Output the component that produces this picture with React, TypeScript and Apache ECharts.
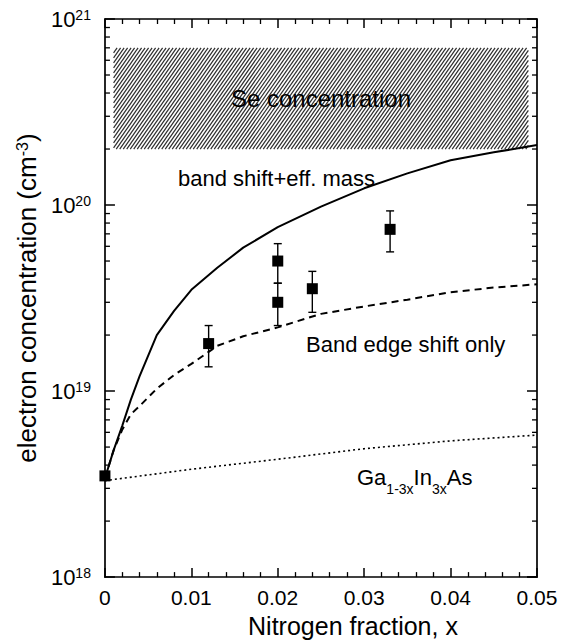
import React, { useEffect, useRef } from "react";
import * as echarts from "echarts";

// ---- data ----
const curveX = [0, 0.001, 0.002, 0.003, 0.004, 0.006, 0.008, 0.01, 0.013, 0.016, 0.02, 0.025, 0.03, 0.035, 0.04, 0.045, 0.05];
const bandShiftEffMass = [3.4e18, 4.8e18, 6.5e18, 9e18, 1.2e19, 2.0e19, 2.7e19, 3.5e19, 4.6e19, 5.9e19, 7.6e19, 9.8e19, 1.23e20, 1.48e20, 1.74e20, 1.92e20, 2.1e20];
const bandEdgeShiftOnly = [3.4e18, 4.8e18, 6.2e18, 7.5e18, 8.3e18, 1.03e19, 1.22e19, 1.4e19, 1.75e19, 1.97e19, 2.2e19, 2.6e19, 2.85e19, 3.1e19, 3.4e19, 3.6e19, 3.75e19];
const alloyX = [0, 0.01, 0.02, 0.03, 0.04, 0.05];
const gaInAs = [3.3e18, 3.8e18, 4.3e18, 4.9e18, 5.4e18, 5.8e18];
const measX = [0, 0.012, 0.02, 0.02, 0.024, 0.033];
const measN = [3.5e18, 1.8e19, 5.0e19, 3.0e19, 3.55e19, 7.4e19];
const errLow = [null, 1.35e19, 3.8e19, 2.25e19, 2.65e19, 5.6e19];
const errHigh = [null, 2.25e19, 6.2e19, 3.8e19, 4.4e19, 9.3e19];
const seX = [0.001, 0.049];
const seN = [2e20, 7e20];
const decades = [1e18, 1e19, 1e20];
const minorMult = [2, 3, 4, 5, 6, 7, 8, 9];

const FONT = "'Liberation Sans', Arial, Helvetica, sans-serif";

export default function App() {
  const ref = useRef<HTMLDivElement>(null);
  useEffect(() => {
    const chart = echarts.init(ref.current!, null, { renderer: "svg" });

    const minorVals: number[] = [];
    decades.forEach((d) => minorMult.forEach((m) => minorVals.push(m * d)));

    const errData: number[][] = [];
    measX.forEach((x, i) => {
      if (errLow[i] != null && errHigh[i] != null) errData.push([x, measN[i], errLow[i] as number, errHigh[i] as number]);
    });

    const axisLineStyle = { color: "#000", width: 1.7 };
    const xCommon = {
      type: "value",
      min: 0,
      max: 0.05,
      interval: 0.01,
      axisLine: { show: true, onZero: false, lineStyle: axisLineStyle },
      axisTick: { show: true, inside: true, length: 9, lineStyle: { color: "#000", width: 1.5 } },
      minorTick: { show: true, splitNumber: 5, length: 5, lineStyle: { color: "#000", width: 1.3 } },
      splitLine: { show: false },
      minorSplitLine: { show: false },
    };
    const yCommon = {
      type: "log",
      logBase: 10,
      min: 1e18,
      max: 1e21,
      axisLine: { show: true, onZero: false, lineStyle: axisLineStyle },
      axisTick: { show: true, inside: true, length: 10, lineStyle: { color: "#000", width: 1.5 } },
      splitLine: { show: false },
    };

    const option: any = {
      animation: false,
      backgroundColor: "#fff",
      grid: { left: 99, right: 25, top: 19, bottom: 55, containLabel: false },
      xAxis: [
        {
          ...xCommon,
          position: "bottom",
          axisLabel: {
            show: true,
            color: "#000",
            fontSize: 21,
            fontFamily: FONT,
            margin: 10,
            formatter: (v: number) => (v === 0 ? "0" : v.toFixed(2)),
          },
          name: "Nitrogen fraction, x",
          nameLocation: "middle",
          nameGap: 31,
          nameTextStyle: { color: "#000", fontSize: 25, fontFamily: FONT, padding: [0, 0, 0, 64] },
        },
        { ...xCommon, position: "top", axisLabel: { show: false } },
      ],
      yAxis: [
        {
          ...yCommon,
          position: "left",
          axisLabel: {
            show: true,
            margin: 14,
            formatter: (v: number) => `{b|10}{s|${Math.round(Math.log10(v))}}`,
            rich: {
              b: { fontSize: 22, fontFamily: FONT, color: "#000", lineHeight: 22, verticalAlign: "bottom", padding: [6, 0, 0, 0] },
              s: { fontSize: 14, fontFamily: FONT, color: "#000", lineHeight: 14, verticalAlign: "top" },
            },
          },
          name: "{a|electron concentration (cm}{s|-3}{a|)}",
          nameLocation: "middle",
          nameGap: 40,
          nameRotate: 90,
          nameTextStyle: {
            rich: {
              a: { fontSize: 26, fontFamily: FONT, color: "#000", lineHeight: 26, verticalAlign: "bottom", padding: [6, 0, 0, 0] },
              s: { fontSize: 16, fontFamily: FONT, color: "#000", lineHeight: 16, verticalAlign: "top" },
            },
          },
        },
        { ...yCommon, position: "right", axisLabel: { show: false } },
      ],
      series: [
        {
          type: "custom",
          name: "Se concentration",
          xAxisIndex: 0,
          yAxisIndex: 0,
          silent: true,
          z: 1,
          clip: false,
          data: [[seX[0], seX[1], seN[0], seN[1]]],
          renderItem: (params: any, api: any) => {
            const tl = api.coord([api.value(0), api.value(3)]);
            const br = api.coord([api.value(1), api.value(2)]);
            const left = tl[0], top = tl[1], right = br[0], bottom = br[1];
            const h = bottom - top;
            const a = 0.7; // horizontal run per vertical px
            const step = 3.5;
            const children: any[] = [];
            for (let c = left - h * a; c <= right; c += step) {
              let x1 = c, y1 = bottom, x2 = c + h * a, y2 = top;
              if (x1 < left) { y1 = bottom - (left - c) / a; x1 = left; }
              if (x2 > right) { y2 = bottom - (right - c) / a; x2 = right; }
              if (y1 <= y2) continue;
              children.push({ type: "line", shape: { x1, y1, x2, y2 }, style: { stroke: "#2e2e2e", lineWidth: 1.2 } });
            }
            children.push({
              type: "text",
              style: {
                text: "Se concentration",
                x: (left + right) / 2,
                y: (top + bottom) / 2,
                textAlign: "center",
                textVerticalAlign: "middle",
                fontSize: 24,
                fontFamily: FONT,
                fill: "#000",
              },
            });
            return { type: "group", children };
          },
        },
        {
          type: "custom",
          name: "minor ticks",
          silent: true,
          clip: false,
          z: 5,
          data: minorVals.map((v) => [0, v]),
          renderItem: (params: any, api: any) => {
            const pL = api.coord([0, api.value(1)]);
            const pR = api.coord([0.05, api.value(1)]);
            const st = { stroke: "#000", lineWidth: 1.3 };
            return {
              type: "group",
              children: [
                { type: "line", shape: { x1: pL[0], y1: pL[1], x2: pL[0] + 5, y2: pL[1] }, style: st },
                { type: "line", shape: { x1: pR[0], y1: pR[1], x2: pR[0] - 5, y2: pR[1] }, style: st },
              ],
            };
          },
        },
        {
          type: "line",
          name: "band shift+eff. mass",
          data: curveX.map((x, i) => [x, bandShiftEffMass[i]]),
          showSymbol: false,
          lineStyle: { color: "#000", width: 2 },
          z: 3,
        },
        {
          type: "line",
          name: "Band edge shift only",
          data: curveX.map((x, i) => [x, bandEdgeShiftOnly[i]]),
          showSymbol: false,
          lineStyle: { color: "#000", width: 2, type: [7, 5] },
          z: 3,
        },
        {
          type: "line",
          name: "Ga1-3xIn3xAs",
          data: alloyX.map((x, i) => [x, gaInAs[i]]),
          showSymbol: false,
          lineStyle: { color: "#000", width: 1.6, type: [2, 3] },
          z: 3,
        },
        {
          type: "custom",
          name: "error bars",
          silent: true,
          z: 4,
          data: errData,
          renderItem: (params: any, api: any) => {
            const x = api.value(0);
            const lo = api.coord([x, api.value(2)]);
            const hi = api.coord([x, api.value(3)]);
            const st = { stroke: "#000", lineWidth: 1.4 };
            const cw = 4;
            return {
              type: "group",
              children: [
                { type: "line", shape: { x1: lo[0], y1: lo[1], x2: hi[0], y2: hi[1] }, style: st },
                { type: "line", shape: { x1: lo[0] - cw, y1: lo[1], x2: lo[0] + cw, y2: lo[1] }, style: st },
                { type: "line", shape: { x1: hi[0] - cw, y1: hi[1], x2: hi[0] + cw, y2: hi[1] }, style: st },
              ],
            };
          },
        },
        {
          type: "scatter",
          name: "measured",
          data: measX.map((x, i) => [x, measN[i]]),
          symbol: "rect",
          symbolSize: 11,
          itemStyle: { color: "#000", opacity: 1 },
          clip: false,
          z: 6,
        },
      ],
      graphic: [
        {
          type: "text",
          x: 178,
          y: 178,
          style: { text: "band shift+eff. mass", fontSize: 22, fontFamily: FONT, fill: "#000", textAlign: "left", textVerticalAlign: "middle" },
        },
        {
          type: "text",
          x: 306,
          y: 344,
          style: { text: "Band edge shift only", fontSize: 22, fontFamily: FONT, fill: "#000", textAlign: "left", textVerticalAlign: "middle" },
        },
        {
          type: "text",
          x: 357,
          y: 481,
          style: {
            text: "{a|Ga}{s|1-3x}{a|In}{s|3x}{a|As}{h| }",
            textAlign: "left",
            textVerticalAlign: "middle",
            rich: {
              a: { fontSize: 22, fontFamily: FONT, fill: "#000", color: "#000", lineHeight: 24, verticalAlign: "top" },
              s: { fontSize: 14, fontFamily: FONT, fill: "#000", color: "#000", lineHeight: 16, verticalAlign: "bottom" },
              h: { fontSize: 1, lineHeight: 29, verticalAlign: "bottom" },
            },
          },
        },
      ],
    };

    chart.setOption(option);
    return () => chart.dispose();
  }, []);

  return <div ref={ref} style={{ position: "fixed", left: 0, top: 0, width: 562, height: 643 }} />;
}
